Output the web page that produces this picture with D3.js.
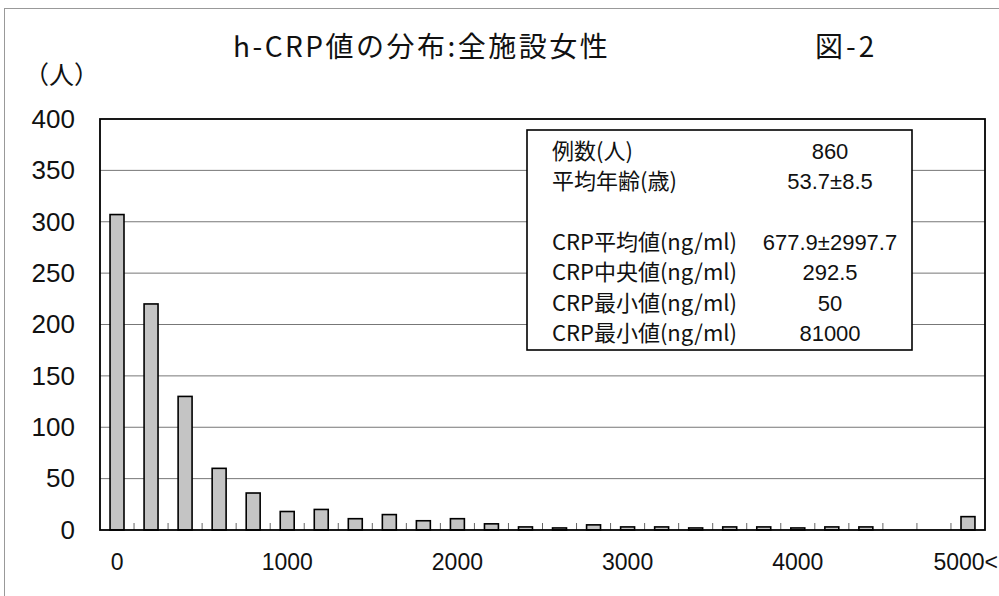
<!DOCTYPE html>
<html>
<head>
<meta charset="utf-8">
<script src="https://cdn.jsdelivr.net/npm/d3@7"></script>
<style>
  body { margin: 0; background: #fff; }
  text { font-family: "Liberation Sans", "Noto Sans CJK JP", sans-serif; fill: #111; }
  .jp { font-family: "Noto Sans CJK JP", sans-serif; }
</style>
</head>
<body>
<div id="chart"></div>
<script>
// h-CRP distribution, all facilities, women (bins of 200 ng/ml)
const categories = ["0", "200", "400", "600", "800", "1000", "1200", "1400", "1600", "1800",
    "2000", "2200", "2400", "2600", "2800", "3000", "3200", "3400", "3600", "3800",
    "4000", "4200", "4400", "4600", "4800", "5000<"];
const counts = [307, 220, 130, 60, 36, 18, 20, 11, 15, 9,
    11, 6, 3, 2, 5, 3, 3, 2, 3, 3,
    2, 3, 3, 0, 0, 13];
const xTickLabels = ["0", "1000", "2000", "3000", "4000", "5000<"];
const yTicks = [0, 50, 100, 150, 200, 250, 300, 350, 400];
const statLabels = ["例数(人)", "平均年齢(歳)", "", "CRP平均値(ng/ml)", "CRP中央値(ng/ml)", "CRP最小値(ng/ml)", "CRP最小値(ng/ml)"];
const statValues = ["860", "53.7±8.5", "", "677.9±2997.7", "292.5", "50", "81000"];

let W = 999, H = 596;
let margin = {top: 119, bottom: 66, left: 100, right: 14};

let svg = d3.select("#chart").append("svg")
    .attr("width", W)
    .attr("height", H);

// outer chart border
svg.append("rect")
    .attr("x", 4.5).attr("y", 8.5)
    .attr("width", W + 10).attr("height", H + 10)
    .attr("fill", "none")
    .attr("stroke", "#999")
    .attr("stroke-width", 1);

let xScale = d3.scaleBand()
    .domain(categories)
    .range([margin.left, W - margin.right])
    .paddingInner(0.59)
    .paddingOuter(0.295);
let yScale = d3.scaleLinear()
    .domain([0, 400])
    .range([H - margin.bottom, margin.top]);

// gridlines
svg.append("g")
    .selectAll("line")
    .data(yTicks.filter(d => d > 0 && d < 400))
    .enter().append("line")
    .attr("x1", margin.left).attr("x2", W - margin.right)
    .attr("y1", d => yScale(d)).attr("y2", d => yScale(d))
    .attr("stroke", "#777")
    .attr("stroke-width", 1);

// small ticks between bars
let step = xScale.step();
svg.append("g")
    .selectAll("line")
    .data(categories.slice(1))
    .enter().append("line")
    .attr("x1", d => xScale(d) - step * 0.295)
    .attr("x2", d => xScale(d) - step * 0.295)
    .attr("y1", yScale(0)).attr("y2", yScale(0) - 7)
    .attr("stroke", "#666")
    .attr("stroke-width", 1);

// bars
svg.append("g")
    .selectAll("rect")
    .data(counts.map((v, i) => ({cat: categories[i], v: v})).filter(d => d.v > 0))
    .enter().append("rect")
    .attr("x", d => xScale(d.cat))
    .attr("y", d => yScale(d.v))
    .attr("width", xScale.bandwidth())
    .attr("height", d => yScale(0) - yScale(d.v))
    .attr("fill", "#c4c4c4")
    .attr("stroke", "#000")
    .attr("stroke-width", 1.6);

// plot frame
svg.append("rect")
    .attr("x", margin.left).attr("y", margin.top)
    .attr("width", W - margin.right - margin.left)
    .attr("height", yScale(0) - margin.top)
    .attr("fill", "none")
    .attr("stroke", "#000")
    .attr("stroke-width", 1.8);

// y axis labels
let yAxis = d3.axisLeft(yScale).tickValues(yTicks).tickSize(0).tickPadding(25);
let gy = svg.append("g")
    .attr("transform", `translate(${margin.left},0)`)
    .call(yAxis);
gy.select(".domain").remove();
gy.selectAll("text")
    .style("font-family", "Liberation Sans")
    .style("font-size", "26px")
    .attr("fill", "#111");

// x axis labels
let xAxis = d3.axisBottom(xScale).tickValues(xTickLabels).tickSize(0).tickPadding(24);
let gx = svg.append("g")
    .attr("transform", `translate(0,${yScale(0)})`)
    .call(xAxis);
gx.select(".domain").remove();
gx.selectAll("text")
    .style("font-family", "Liberation Sans")
    .style("font-size", "23px")
    .attr("fill", "#111");
// last label sits against the right edge
gx.selectAll("text").filter(d => d === "5000<")
    .attr("text-anchor", "end")
    .attr("x", W - 1 - xScale("5000<") - xScale.bandwidth() / 2);

// titles
svg.append("text")
    .attr("class", "jp")
    .attr("x", 233).attr("y", 57)
    .style("font-size", "28px")
    .style("letter-spacing", "2.5px")
    .text("h-CRP値の分布:全施設女性");
svg.append("text")
    .attr("class", "jp")
    .attr("x", 815).attr("y", 57)
    .style("font-size", "28px")
    .style("letter-spacing", "3px")
    .text("図-2");
svg.append("text")
    .attr("class", "jp")
    .attr("x", 24).attr("y", 84)
    .style("font-size", "25px")
    .text("（人）");

// stats box
svg.append("rect")
    .attr("x", 527).attr("y", 130)
    .attr("width", 385).attr("height", 220)
    .attr("fill", "#fff")
    .attr("stroke", "#000")
    .attr("stroke-width", 1.6);

let rows = svg.append("g").selectAll("g")
    .data(statLabels.map((l, i) => ({label: l, value: statValues[i]})))
    .enter().append("g")
    .attr("transform", (d, i) => `translate(0,${151 + i * 30.4})`);
rows.append("text")
    .attr("class", "jp")
    .attr("x", 552)
    .attr("dy", "0.35em")
    .style("font-size", "22px")
    .text(d => d.label);
rows.append("text")
    .attr("x", 830)
    .attr("dy", "0.35em")
    .attr("text-anchor", "middle")
    .style("font-size", "22px")
    .text(d => d.value);
</script>
</body>
</html>
